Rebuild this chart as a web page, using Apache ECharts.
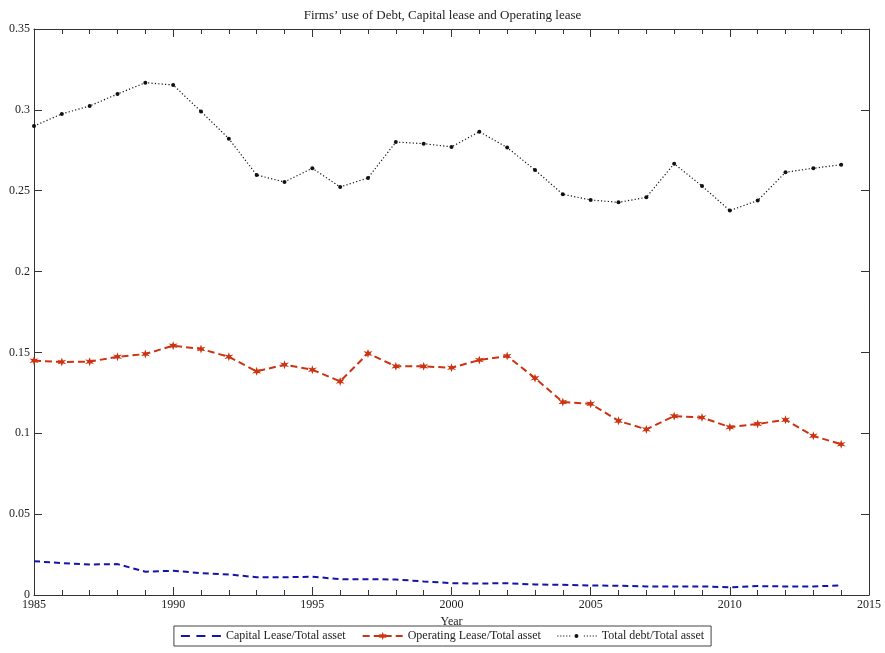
<!DOCTYPE html>
<html>
<head>
<meta charset="utf-8">
<script src="https://cdn.jsdelivr.net/npm/echarts@6/dist/echarts.min.js"></script>
<style>
  html, body { margin: 0; padding: 0; background: #fff; }
  #chart { width: 885px; height: 653px; }
</style>
</head>
<body>
<div id="chart"></div>
<script>
// Years 1985–2014
const years = [1985, 1986, 1987, 1988, 1989, 1990, 1991, 1992, 1993, 1994,
  1995, 1996, 1997, 1998, 1999, 2000, 2001, 2002, 2003, 2004,
  2005, 2006, 2007, 2008, 2009, 2010, 2011, 2012, 2013, 2014];

const capitalLease = [0.0209, 0.0197, 0.0189, 0.0191, 0.0144, 0.0150, 0.0135, 0.0127, 0.0110, 0.0110,
  0.0113, 0.0098, 0.0098, 0.0096, 0.0084, 0.0073, 0.0071, 0.0073, 0.0065, 0.0063,
  0.0059, 0.0057, 0.0053, 0.0053, 0.0053, 0.0048, 0.0055, 0.0053, 0.0053, 0.0059];

const operatingLease = [0.1449, 0.1441, 0.1443, 0.1473, 0.1490, 0.1542, 0.1521, 0.1473, 0.1383, 0.1424,
  0.1393, 0.1321, 0.1494, 0.1414, 0.1414, 0.1405, 0.1453, 0.1478, 0.1341, 0.1193,
  0.1182, 0.1077, 0.1024, 0.1106, 0.1098, 0.1038, 0.1058, 0.1083, 0.0984, 0.0932];

const totalDebt = [0.2900, 0.2975, 0.3024, 0.3098, 0.3168, 0.3154, 0.2990, 0.2822, 0.2597, 0.2554,
  0.2639, 0.2523, 0.2579, 0.2801, 0.2791, 0.2771, 0.2865, 0.2767, 0.2628, 0.2478,
  0.2443, 0.2428, 0.2459, 0.2667, 0.2529, 0.2377, 0.2439, 0.2614, 0.2639, 0.2661];

const seriesNames = ['Capital Lease/Total asset', 'Operating Lease/Total asset', 'Total debt/Total asset'];
const chartTitle = 'Firms\u2019 use of Debt, Capital lease and Operating lease';
const xAxisName = 'Year';

const pair = (vals) => years.map((y, i) => [y, vals[i]]);

const FONT = '"Liberation Serif", "DejaVu Serif", serif';
const AXIS_COLOR = '#333';

// six-pointed star marker
const starPath = 'path://M0,-10 L2,-3.46 L8.66,-5 L4,0 L8.66,5 L2,3.46 L0,10 L-2,3.46 L-8.66,5 L-4,0 L-8.66,-5 L-2,-3.46 Z';

// legend icons drawn in a 40x10 box; the corner slivers pin the box size
const iconCorners = 'M0,0 L0.01,0 L0,0.01 Z M40,10 L39.99,10 L40,9.99 Z ';
const dashIcon = 'path://' + iconCorners +
  'M0,4 L9,4 L9,6 L0,6 Z M15.5,4 L24.5,4 L24.5,6 L15.5,6 Z M31,4 L40,4 L40,6 L31,6 Z';
let dotSegs = '';
for (let x = 0.5; x < 40; x += 3) {
  if (x > 15 && x < 25) continue;
  dotSegs += 'M' + x + ',4.4 L' + (x + 1.2) + ',4.4 L' + (x + 1.2) + ',5.6 L' + x + ',5.6 Z ';
}
const dotIcon = 'path://' + iconCorners + dotSegs +
  'M22,5 A2,2 0 1 1 18,5 A2,2 0 1 1 22,5 Z';

const frameX = (pos, showLabels) => ({
  type: 'value', position: pos, min: 1985, max: 2015, interval: 5,
  axisLine: { show: true, onZero: false, lineStyle: { color: AXIS_COLOR, width: 1 } },
  axisTick: { show: true, inside: true, length: 8, lineStyle: { color: AXIS_COLOR } },
  minorTick: { show: true, splitNumber: 5, length: 5, lineStyle: { color: AXIS_COLOR } },
  axisLabel: { show: showLabels, color: '#222', fontFamily: FONT, fontSize: 12, margin: 4,
    formatter: (v) => String(v) },
  splitLine: { show: false }
});

const frameY = (pos, showLabels) => ({
  type: 'value', position: pos, min: 0, max: 0.35, interval: 0.05,
  axisLine: { show: true, onZero: false, lineStyle: { color: AXIS_COLOR, width: 1 } },
  axisTick: { show: true, inside: true, length: 8, lineStyle: { color: AXIS_COLOR } },
  axisLabel: { show: showLabels, color: '#222', fontFamily: FONT, fontSize: 12, margin: 4 },
  splitLine: { show: false }
});

const chart = echarts.init(document.getElementById('chart'));
chart.setOption({
  backgroundColor: '#fff',
  animation: false,
  title: {
    text: chartTitle, left: 'center', top: 4,
    textStyle: { fontFamily: FONT, fontSize: 13, fontWeight: 'normal', color: '#222' }
  },
  grid: { left: 34, right: 16, top: 29, bottom: 58, containLabel: false },
  xAxis: [
    Object.assign(frameX('bottom', true), {
      name: xAxisName, nameLocation: 'middle', nameGap: 19,
      nameTextStyle: { fontFamily: FONT, fontSize: 12, color: '#222' }
    }),
    frameX('top', false)
  ],
  yAxis: [frameY('left', true), frameY('right', false)],
  legend: {
    data: [
      { name: seriesNames[0], icon: dashIcon },
      { name: seriesNames[1] },
      { name: seriesNames[2], icon: dotIcon }
    ],
    left: 'center', top: 626,
    orient: 'horizontal',
    itemWidth: 40, itemHeight: 10, itemGap: 16,
    borderColor: '#444', borderWidth: 1, borderRadius: 0,
    padding: [4, 7, 4, 7],
    textStyle: { fontFamily: FONT, fontSize: 12, color: '#222' }
  },
  series: [
    {
      name: seriesNames[0], type: 'line', data: pair(capitalLease),
      xAxisIndex: 0, yAxisIndex: 0,
      showSymbol: false, symbol: 'none',
      lineStyle: { color: '#1414a8', width: 2, type: [6, 4] },
      itemStyle: { color: '#1414a8' }
    },
    {
      name: seriesNames[1], type: 'line', data: pair(operatingLease),
      xAxisIndex: 0, yAxisIndex: 0,
      symbol: starPath, symbolSize: 9,
      lineStyle: { color: '#cc3310', width: 2, type: [7, 4] },
      itemStyle: { color: '#cc3310' }
    },
    {
      name: seriesNames[2], type: 'line', data: pair(totalDebt),
      xAxisIndex: 0, yAxisIndex: 0,
      symbol: 'circle', symbolSize: 4,
      lineStyle: { color: '#111', width: 1.2, type: [1.2, 2.2] },
      itemStyle: { color: '#111' }
    }
  ]
});
</script>
</body>
</html>
